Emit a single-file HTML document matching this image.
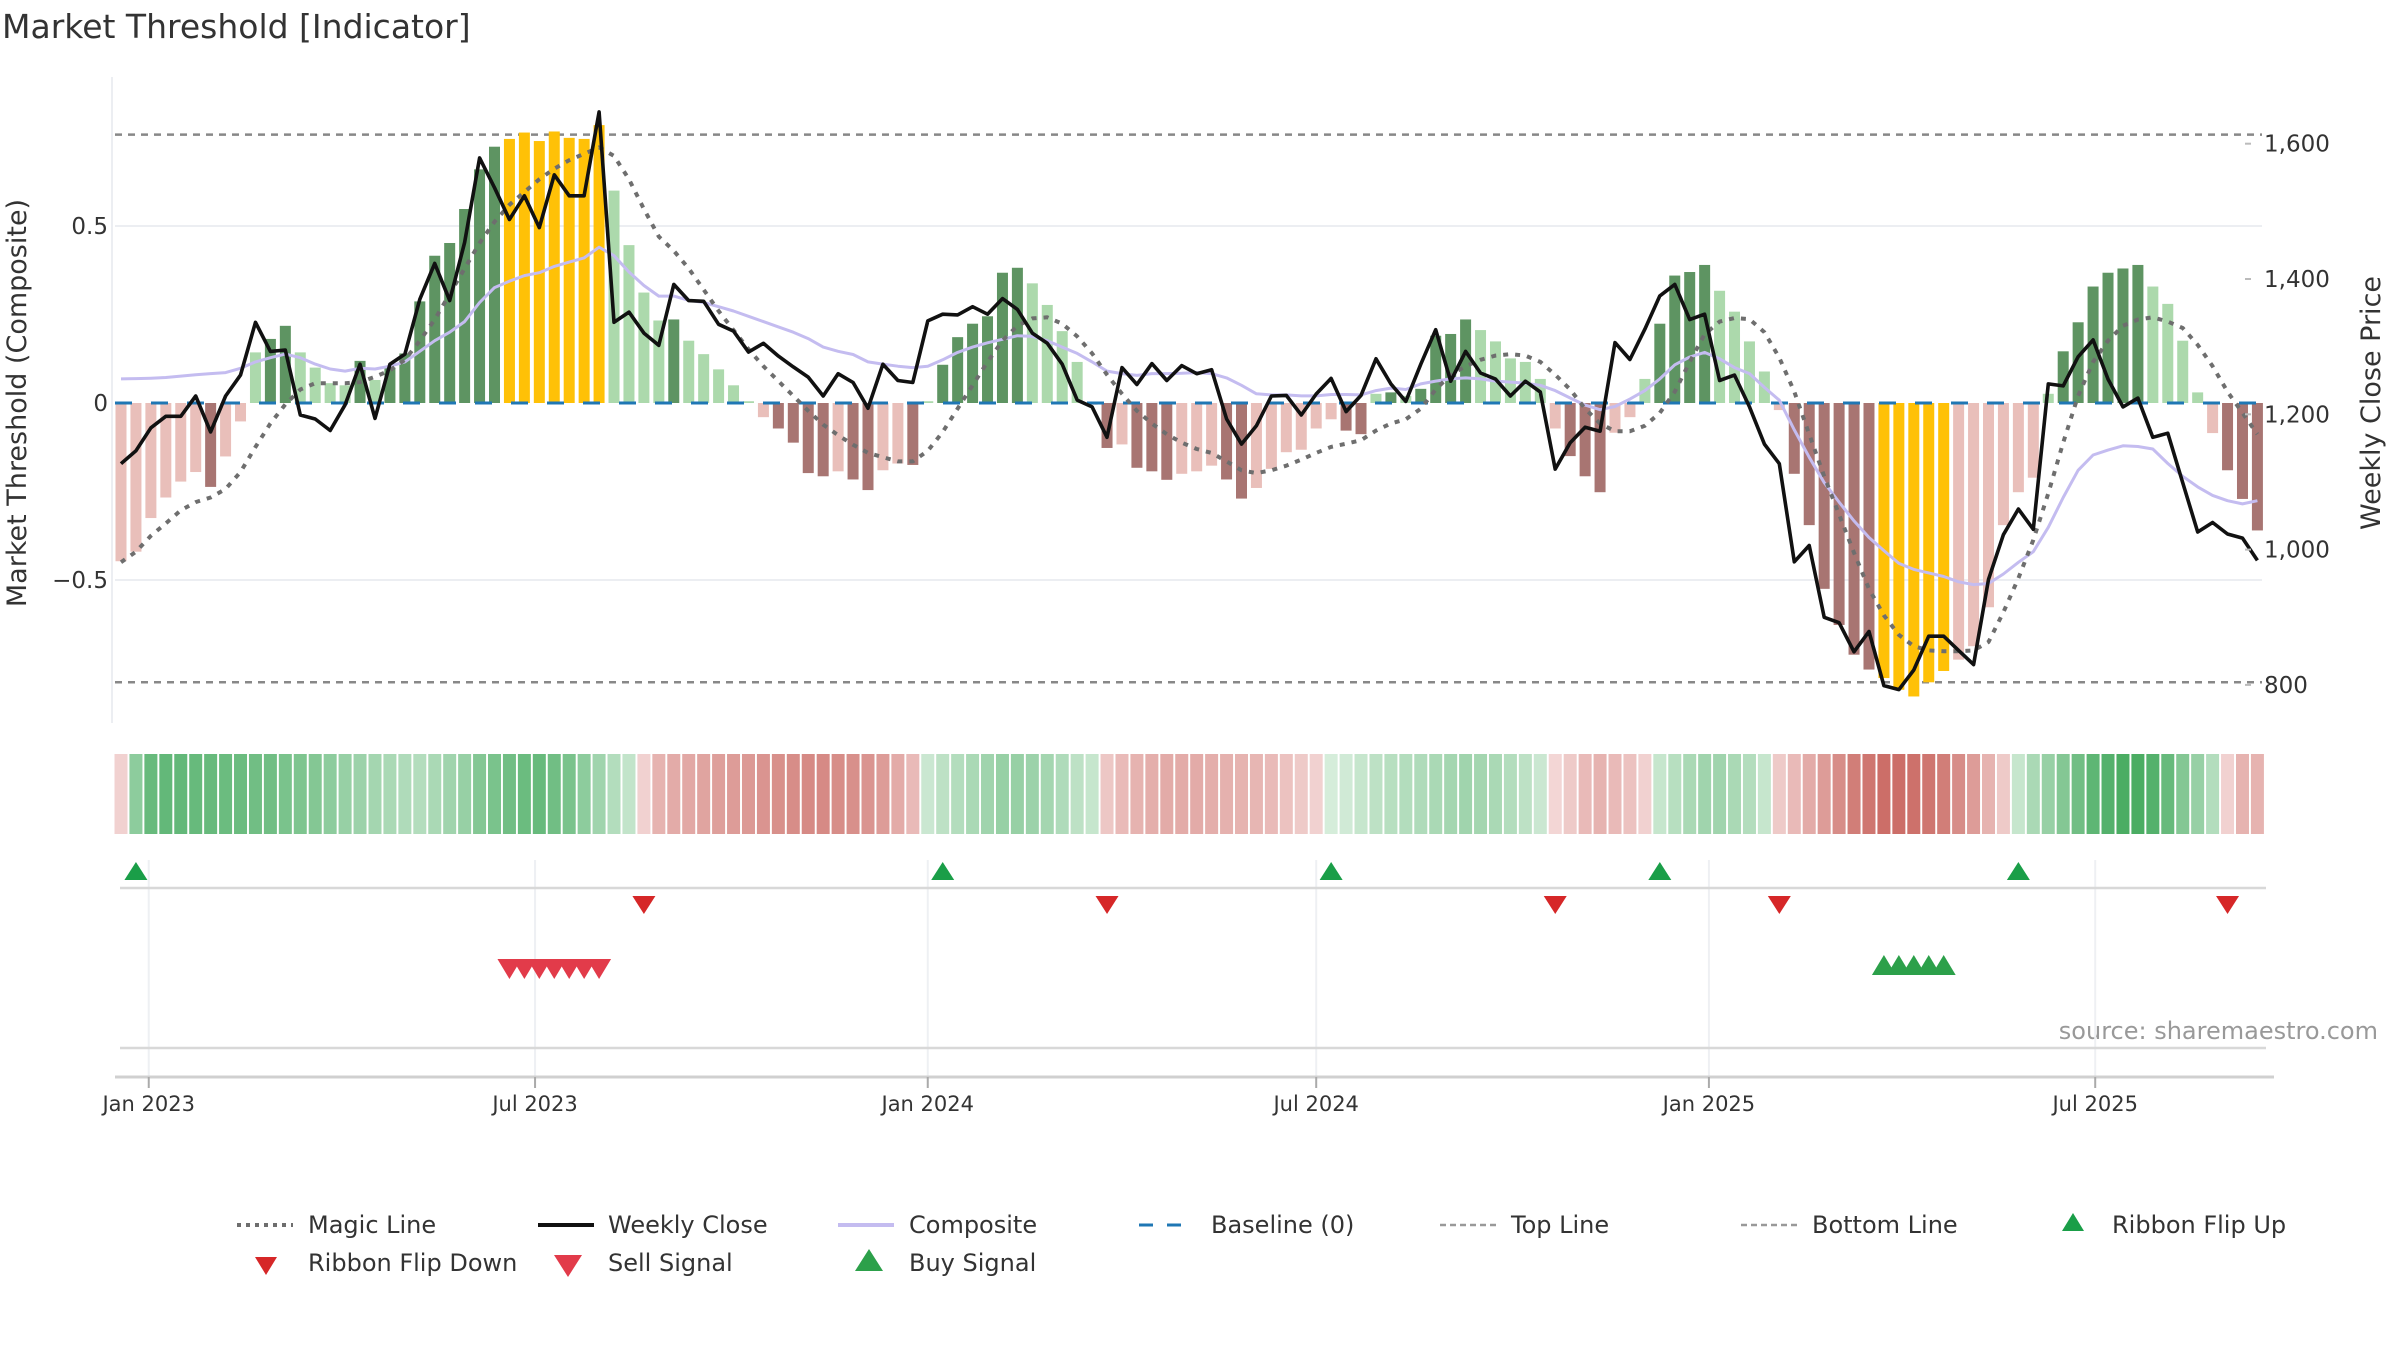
<!DOCTYPE html>
<html><head><meta charset="utf-8">
<style>
html,body{margin:0;padding:0;background:#fff;}
svg{display:block;font-family:"DejaVu Sans","Liberation Sans",sans-serif;}
</style></head>
<body>
<svg id="chart" width="2400" height="1350" viewBox="0 0 2400 1350" xmlns="http://www.w3.org/2000/svg">
<text x="2" y="38" font-size="33" fill="#333">Market Threshold [Indicator]</text>
<text transform="translate(26,403) rotate(-90)" text-anchor="middle" font-size="27" fill="#333">Market Threshold (Composite)</text>
<text transform="translate(2380,403) rotate(-90)" text-anchor="middle" font-size="27" fill="#333">Weekly Close Price</text>
<text x="2378" y="1039" text-anchor="end" font-size="24" fill="#999">source: sharemaestro.com</text>
<g id="grid"></g>
<g id="ribbon"></g>
<g id="bars"></g>
<g id="lines"></g>
<g id="signals"></g>
<g id="axes"></g>
<g id="legend"></g>
</svg>
<script>
const startDate = "2022-12-19";
const composite = [-0.447,-0.42,-0.325,-0.267,-0.222,-0.195,-0.237,-0.151,-0.052,
0.143,0.181,0.218,0.143,0.10,0.056,0.05,0.119,0.065,
0.10,0.14,0.287,0.416,0.452,0.548,0.66,0.724,
0.746,0.764,0.74,0.767,0.749,0.746,0.785,
0.60,0.446,0.312,0.233,0.236,0.176,0.138,0.095,0.05,0.005,
-0.04,-0.072,-0.112,-0.198,-0.207,-0.193,-0.216,-0.246,-0.19,-0.171,-0.175,
0.005,0.108,0.186,0.224,0.245,0.368,0.382,0.338,0.277,0.203,0.116,
-0.005,-0.127,-0.117,-0.183,-0.193,-0.217,-0.2,-0.193,-0.177,-0.216,-0.27,-0.24,-0.186,-0.139,-0.132,-0.072,-0.046,-0.078,-0.088,
0.026,0.03,0.02,0.04,0.19,0.195,0.236,0.206,0.174,0.126,0.116,0.068,
-0.072,-0.15,-0.207,-0.252,-0.084,-0.04,
0.068,0.224,0.36,0.37,0.39,0.317,0.258,0.174,0.089,
-0.02,-0.2,-0.345,-0.525,-0.627,-0.711,-0.753,-0.777,-0.81,-0.829,-0.789,-0.757,-0.725,-0.687,-0.577,-0.345,-0.252,-0.211,
0.026,0.146,0.228,0.329,0.368,0.38,0.39,0.329,0.28,0.176,0.03,
-0.085,-0.19,-0.271,-0.36];
const weeklyClose = [1127,1146,1180,1197,1197,1227,1174,1227,1258,
1336,1293,1295,1199,1193,1176,1214,1274,1194,
1274,1289,1370,1423,1368,1454,1579,1535,
1488,1523,1476,1554,1523,1523,1647,
1336,1351,1320,1302,1392,1368,1367,1333,1323,1292,
1305,1286,1270,1255,1227,1260,1247,1209,1274,1250,1247,
1338,1348,1347,1359,1348,1371,1355,1320,1305,1274,1221,
1211,1166,1269,1244,1275,1250,1272,1260,1266,1193,1156,1183,1227,1228,1199,1230,1253,1204,1228,
1282,1245,1219,1274,1325,1249,1293,1261,1252,1227,1249,1233,
1119,1158,1181,1175,1306,1281,
1326,1375,1392,1340,1348,1250,1258,1211,1156,
1127,982,1006,900,892,849,879,799,793,822,872,872,851,830,956,1022,1060,1030,
1245,1242,1285,1310,1252,1211,1224,1166,1172,1099,1026,
1040,1023,1017,984];
const compositeLine = [0.068,0.069,0.07,0.072,0.076,0.08,0.083,0.086,0.098,
0.116,0.128,0.138,0.128,0.11,0.096,0.09,0.098,0.096,
0.104,0.116,0.146,0.176,0.2,0.23,0.284,0.326,
0.344,0.36,0.368,0.386,0.398,0.41,0.44,
0.416,0.37,0.332,0.302,0.302,0.29,0.284,0.272,0.26,0.245,
0.23,0.215,0.2,0.182,0.158,0.146,0.137,0.116,0.11,0.104,0.1,
0.104,0.122,0.143,0.158,0.17,0.18,0.19,0.188,0.176,0.158,0.14,
0.116,0.09,0.083,0.078,0.083,0.083,0.084,0.086,0.083,0.071,0.05,0.026,0.023,0.023,0.02,0.02,0.024,0.024,0.023,
0.035,0.042,0.038,0.054,0.062,0.068,0.071,0.068,0.062,0.059,0.056,0.05,
0.035,0.014,-0.006,-0.019,-0.01,0.011,
0.035,0.068,0.108,0.13,0.143,0.125,0.1,0.083,0.044,
0.008,-0.076,-0.153,-0.225,-0.28,-0.333,-0.38,-0.417,-0.453,-0.47,-0.48,-0.49,-0.505,-0.513,-0.51,-0.483,-0.45,-0.42,
-0.351,-0.267,-0.19,-0.147,-0.133,-0.121,-0.123,-0.13,-0.171,-0.207,-0.237,
-0.261,-0.276,-0.285,-0.276];
const magicLine = [-0.45,-0.42,-0.375,-0.34,-0.303,-0.28,-0.267,-0.243,-0.195,
-0.124,-0.058,-0.004,0.038,0.056,0.056,0.056,0.059,0.074,
0.092,0.122,0.176,0.236,0.308,0.38,0.452,0.512,
0.56,0.596,0.632,0.662,0.686,0.704,0.722,
0.698,0.632,0.548,0.47,0.43,0.38,0.32,0.26,0.206,0.152,
0.104,0.062,0.02,-0.022,-0.061,-0.091,-0.118,-0.141,-0.153,-0.165,-0.165,
-0.135,-0.082,-0.016,0.05,0.116,0.176,0.218,0.239,0.242,0.224,0.188,
0.14,0.08,0.026,-0.022,-0.058,-0.088,-0.112,-0.13,-0.141,-0.165,-0.19,-0.198,-0.19,-0.177,-0.16,-0.141,-0.124,-0.115,-0.105,
-0.078,-0.058,-0.046,-0.016,0.038,0.08,0.104,0.122,0.134,0.138,0.134,0.116,
0.08,0.038,-0.016,-0.058,-0.08,-0.08,
-0.064,-0.028,0.032,0.116,0.194,0.23,0.24,0.237,0.2,
0.128,0.032,-0.088,-0.207,-0.315,-0.423,-0.525,-0.6,-0.655,-0.687,-0.699,-0.701,-0.701,-0.699,-0.675,-0.591,-0.495,-0.387,
-0.255,-0.112,0.02,0.116,0.176,0.218,0.236,0.242,0.23,0.212,0.164,
0.104,0.032,-0.028,-0.088];
const ribbonValues = [-0.15,0.5,
0.7,0.72,0.72,0.7,0.7,0.68,0.68,0.65,0.65,
0.6,0.58,0.55,0.5,0.45,
0.42,0.38,0.35,0.32,0.3,
0.35,0.4,0.45,0.55,0.6,
0.65,0.68,0.7,0.65,0.6,
0.5,0.4,0.3,0.22,
-0.15,
-0.35,-0.4,-0.42,-0.45,-0.48,-0.5,-0.52,-0.55,-0.58,-0.6,-0.62,-0.62,-0.6,-0.58,-0.55,-0.5,-0.4,-0.3,
0.18,0.25,0.3,0.35,0.4,0.45,0.45,0.42,0.38,0.32,0.25,0.2,
-0.22,-0.3,-0.35,-0.38,-0.4,-0.4,-0.4,-0.38,-0.36,-0.35,-0.33,-0.3,-0.25,-0.2,-0.15,
0.12,0.15,0.2,0.25,0.28,0.3,0.32,0.35,0.38,0.4,0.38,0.35,0.3,0.25,0.18,
-0.12,-0.2,-0.3,-0.35,-0.3,-0.25,-0.15,
0.2,0.28,0.35,0.4,0.4,0.35,0.3,0.2,
-0.2,-0.3,-0.4,-0.5,-0.6,-0.7,-0.75,-0.8,-0.8,-0.78,-0.75,-0.7,-0.6,-0.5,-0.35,-0.2,
0.2,0.35,0.45,0.55,0.65,0.75,0.8,0.85,0.85,0.8,0.7,0.55,0.45,0.3,
-0.15,-0.35,-0.35];
const flipUpWeeks = [1,55,81,103,127];
const flipDownWeeks = [35,66,96,111,141];
const sellWeeks = [26,27,28,29,30,31,32];
const buyWeeks = [118,119,120,121,122];
const leftTicks = [0.5,0,-0.5];
const rightTicks = [800,1000,1200,1400,1600];
const topLineValue = 0.758;
const bottomLineValue = -0.789;
const dateTicks = ["2023-01-01","2023-07-01","2024-01-01","2024-07-01","2025-01-01","2025-07-01"];
const dateTickLabels = ["Jan 2023","Jul 2023","Jan 2024","Jul 2024","Jan 2025","Jul 2025"];

const NS="http://www.w3.org/2000/svg";
const X0=121, STEP=14.94, PL=115, PR=2262;
const t0=Date.parse(startDate);
function xIdx(i){return X0+STEP*i;}
function xDate(s){return X0+STEP*((Date.parse(s)-t0)/86400000/7);}
function yC(v){return 403-v*354;}
function yP(p){return 414.3-(p-1200)*0.6765;}
function mk(tag,attrs,parent){const e=document.createElementNS(NS,tag);for(const k in attrs)e.setAttribute(k,attrs[k]);parent.appendChild(e);return e;}
const G=id=>document.getElementById(id);

const grid=G('grid');
leftTicks.forEach(v=>{if(v!==0){const l=mk('line',{x1:PL,x2:PR,y1:yC(v),y2:yC(v),stroke:'#eceef2','stroke-width':2},grid);

}});
dateTicks.forEach(d=>{const l=mk('line',{x1:xDate(d),x2:xDate(d),y1:860,y2:1077,stroke:'#eef0f3','stroke-width':2},grid);

});
const ax=mk('line',{x1:112,x2:112,y1:77,y2:723,stroke:'#eceef2','stroke-width':2},grid);


[topLineValue,bottomLineValue].forEach((v,i)=>{const l=mk('line',{x1:PL,x2:PR,y1:yC(v),y2:yC(v),stroke:'#888','stroke-width':2.5,'stroke-dasharray':'7 6'},grid);

});

const rib=G('ribbon');
ribbonValues.forEach((v,i)=>{let c;const a=Math.min(1,Math.abs(v));
if(v>=0){c=`rgb(${Math.round(236-190*a)},${Math.round(247-87*a)},${Math.round(238-163*a)})`;}
else{c=`rgb(${Math.round(250-58*a)},${Math.round(232-152*a)},${Math.round(232-160*a)})`;}
const r=mk('rect',{x:xIdx(i)-6.5,y:754,width:13,height:80,fill:c},rib);

});

const bars=G('bars');
composite.forEach((v,i)=>{let col;
const prev=i>0?composite[i-1]:0;
if(sellWeeks.includes(i)||buyWeeks.includes(i))col='#ffc107';
else if(v>=0)col=(i>0&&prev>=0&&v>prev)?'#5e9462':'#acd9ac';
else col=(i>0&&prev<0&&v<prev)?'#a87572':'#e9bfba';
const y=Math.min(yC(v),yC(0)),h=Math.abs(yC(v)-yC(0));
const r=mk('rect',{x:xIdx(i)-5.5,y:y,width:11,height:Math.max(h,0.5),fill:col},bars);

});

const lines=G('lines');
function poly(arr,fy,attrs,name){const pts=arr.map((v,i)=>xIdx(i).toFixed(1)+','+fy(v).toFixed(1)).join(' ');
const p=mk('polyline',Object.assign({points:pts,fill:'none','stroke-linejoin':'round'},attrs),lines);

}
const bl=mk('line',{x1:PL,x2:PR,y1:yC(0),y2:yC(0),stroke:'#1f77b4','stroke-width':3,'stroke-dasharray':'17 19'},lines);


poly(compositeLine,yC,{stroke:'#c4bcf0','stroke-width':3},'composite-line');
poly(magicLine,yC,{stroke:'#6e6e6e','stroke-width':4,'stroke-dasharray':'5 7'},'magic-line');
poly(weeklyClose,yP,{stroke:'#111','stroke-width':3.6},'weekly-close-line');

const sig=G('signals');
[888,1048].forEach(y=>{const l=mk('line',{x1:120,x2:2266,y1:y,y2:y,stroke:'#d8d8d8','stroke-width':2.5},sig);

});
function tri(cx,cy,up,w,h,col,name){const pts=up?`${cx-w/2},${cy+h/2} ${cx+w/2},${cy+h/2} ${cx},${cy-h/2}`:`${cx-w/2},${cy-h/2} ${cx+w/2},${cy-h/2} ${cx},${cy+h/2}`;
const p=mk('polygon',{points:pts,fill:col},sig);

}
flipUpWeeks.forEach(i=>tri(xIdx(i),871,true,23,18,'#1a9e48','ribbon-flip-up'));
flipDownWeeks.forEach(i=>tri(xIdx(i),905,false,23,18,'#d62728','ribbon-flip-down'));
sellWeeks.forEach(i=>tri(xIdx(i),969,false,24,20,'#e23b4a','sell-signal'));
buyWeeks.forEach(i=>tri(xIdx(i),965,true,24,20,'#2ca04a','buy-signal'));

const axes=G('axes');
const xl=mk('line',{x1:PL,x2:2274,y1:1077,y2:1077,stroke:'#d0d0d0','stroke-width':3},axes);


dateTicks.forEach((d,i)=>{const x=xDate(d);
const t=mk('line',{x1:x,x2:x,y1:1077,y2:1088,stroke:'#aaa','stroke-width':2},axes);


const tx=mk('text',{x:x,y:1111,'text-anchor':'middle','font-size':21,fill:'#333'},axes);tx.textContent=dateTickLabels[i];

});
leftTicks.forEach(v=>{const tx=mk('text',{x:108,y:yC(v)+8,'text-anchor':'end','font-size':23,fill:'#333'},axes);
tx.textContent=v<0?'\u2212'+Math.abs(v):String(v);

});
rightTicks.forEach(p=>{const tm=mk('line',{x1:2245,x2:2251,y1:yP(p),y2:yP(p),stroke:'#bbb','stroke-width':2},axes);


const tx=mk('text',{x:2264,y:yP(p)+8,'font-size':23,fill:'#333'},axes);
tx.textContent=p.toLocaleString('en-US');

});

const lg=G('legend');
function ltext(x,y,s){const t=mk('text',{x:x,y:y+8,'font-size':24,fill:'#333'},lg);t.textContent=s;

}
function lline(x,y,attrs){const l=mk('line',Object.assign({x1:x,x2:x+56,y1:y,y2:y},attrs),lg);

}
function ltri(cx,cy,up,col,w,h){const pts=up?`${cx-w/2},${cy+h/2} ${cx+w/2},${cy+h/2} ${cx},${cy-h/2}`:`${cx-w/2},${cy-h/2} ${cx+w/2},${cy-h/2} ${cx},${cy+h/2}`;
const p=mk('polygon',{points:pts,fill:col},lg);

}
const r1=1225,r2=1263;
lline(237,r1,{stroke:'#6e6e6e','stroke-width':4,'stroke-dasharray':'4 5'});ltext(308,r1,'Magic Line');
lline(538,r1,{stroke:'#111','stroke-width':4});ltext(608,r1,'Weekly Close');
lline(838,r1,{stroke:'#c4bcf0','stroke-width':4});ltext(909,r1,'Composite');
lline(1139,r1,{stroke:'#1f77b4','stroke-width':3,'stroke-dasharray':'14 14'});ltext(1211,r1,'Baseline (0)');
lline(1440,r1,{stroke:'#999','stroke-width':2.5,'stroke-dasharray':'6 4'});ltext(1511,r1,'Top Line');
lline(1741,r1,{stroke:'#999','stroke-width':2.5,'stroke-dasharray':'6 4'});ltext(1812,r1,'Bottom Line');
ltri(2073,r1-3,true,'#1a9e48',22,18);ltext(2112,r1,'Ribbon Flip Up');
ltri(266,r2+3,false,'#d62728',22,18);ltext(308,r2,'Ribbon Flip Down');
ltri(568,r2+3,false,'#e23b4a',28,22);ltext(608,r2,'Sell Signal');
ltri(869,r2-3,true,'#2ca04a',28,22);ltext(909,r2,'Buy Signal');
</script>
</body></html>
